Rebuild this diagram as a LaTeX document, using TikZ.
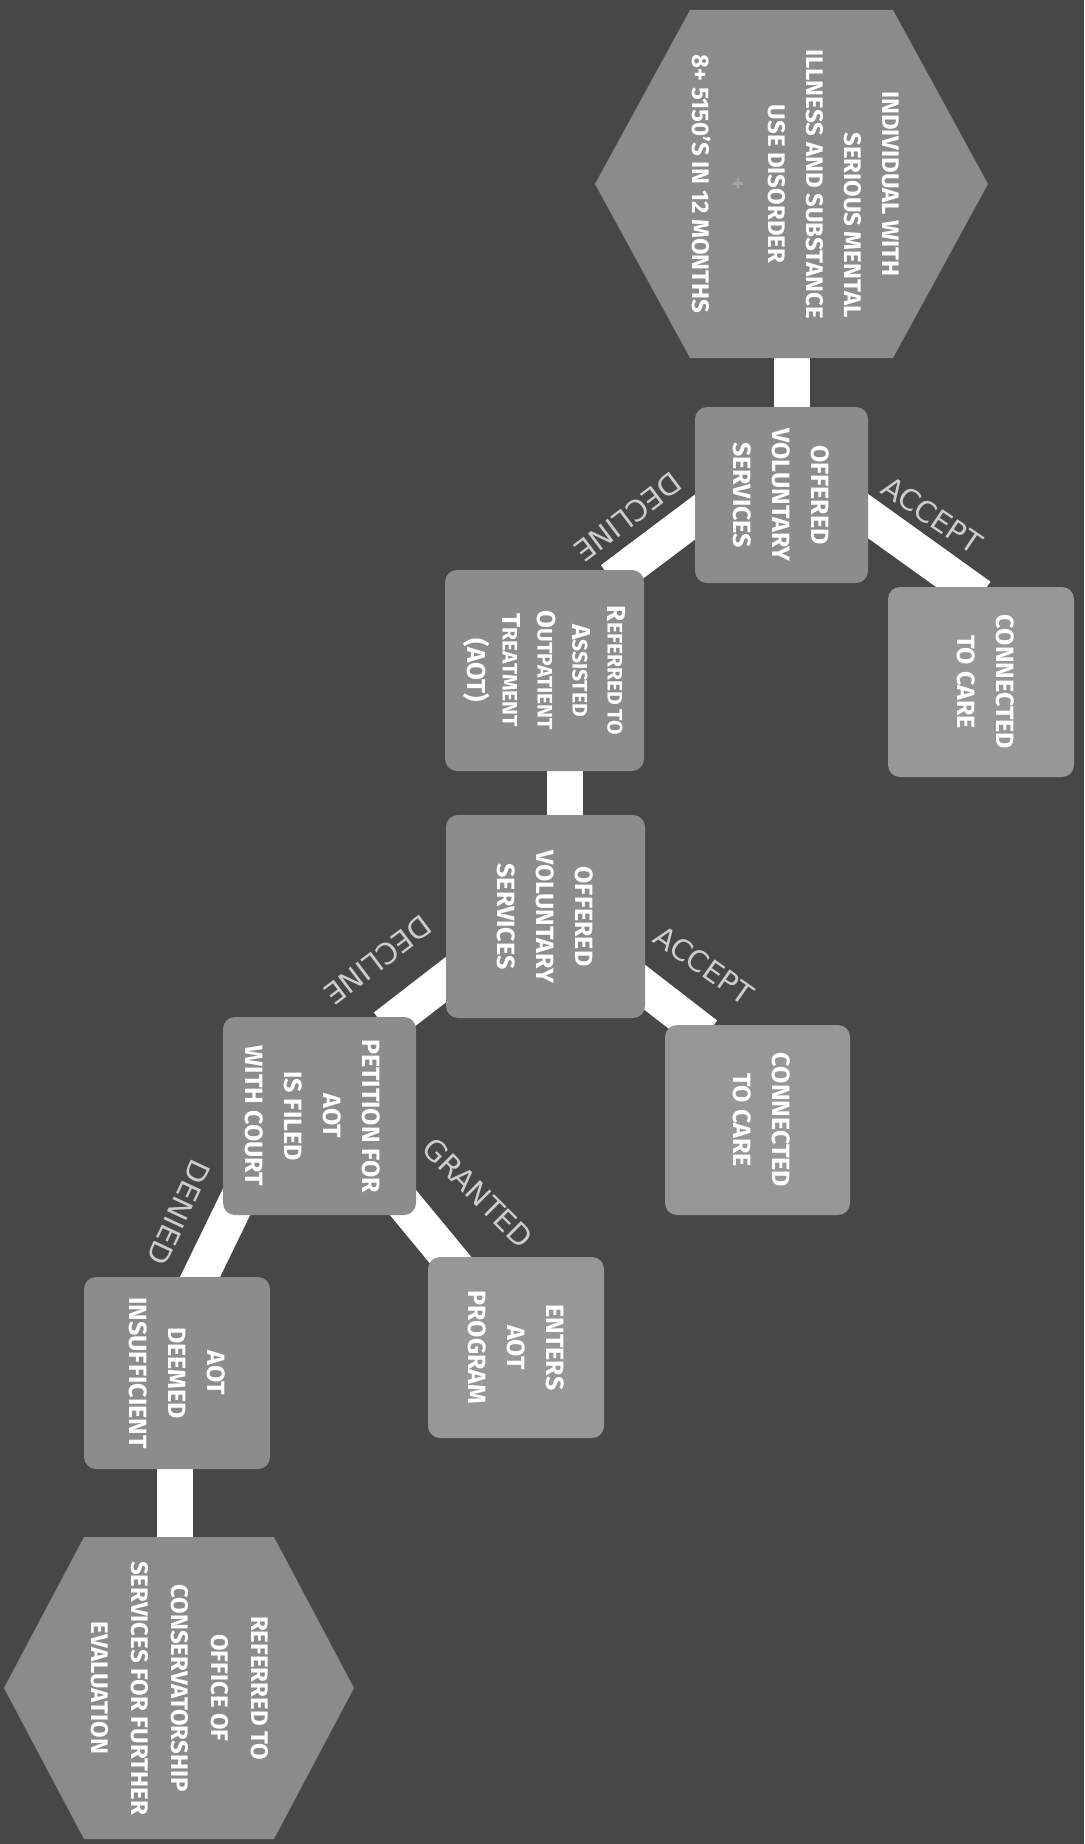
\documentclass[tikz,border=0pt]{standalone}
\usepackage{fontspec}
\setmainfont{Fira Sans}
\newfontfamily\labelfont{DejaVu Sans}
\usetikzlibrary{calc}
\pgfdeclarelayer{bglayer}
\pgfdeclarelayer{edgelayer}
\pgfsetlayers{bglayer,edgelayer,main}
\definecolor{bgcol}{HTML}{474747}
\definecolor{boxcol}{HTML}{8C8C8C}
\definecolor{boxlight}{HTML}{979797}
\definecolor{hexcol}{HTML}{8B8B8B}
\definecolor{labelcol}{HTML}{CDCDCD}
\definecolor{faintcol}{HTML}{A2A2A2}
\newcommand\capsm[2]{{\fontsize{26}{34}\selectfont #1}{\fontsize{21}{34}\selectfont #2}}
\tikzset{
  stepbox/.style={fill=boxcol, rounded corners=12pt, inner sep=0pt, outer sep=0pt},
  lightbox/.style={stepbox, fill=boxlight},
  boxtext/.style={rotate=-90, align=center, text=white, inner sep=0pt,
    font=\bfseries\fontsize{25}{39}\selectfont},
  hextext/.style={rotate=-90, align=center, text=white, inner sep=0pt,
    font=\bfseries\fontsize{24}{38}\selectfont},
  hexframe/.style={inner sep=0pt, outer sep=0pt},
  hexfill/.style={fill=hexcol},
  branch/.style={line width=36pt, white, shorten <=-16pt, shorten >=-16pt},
  edgelabel/.style={text=labelcol, inner sep=0pt, font=\labelfont\fontsize{29}{32}\selectfont}
}
\begin{document}
\begin{tikzpicture}[x=1pt,y=-1pt]
\useasboundingbox (0,0) rectangle (1084,1844);
\begin{pgfonlayer}{bglayer}
  \fill[bgcol] (0,0) rectangle (1084,1844);
\end{pgfonlayer}

% top hexagon
\node[hexframe, minimum width=393pt, minimum height=348pt] (h1) at (791.5,184) {};
\fill[hexfill] (h1.west) -- ($(h1.north west)+(95,0)$) -- ($(h1.north east)+(-95,0)$)
  -- (h1.east) -- ($(h1.south east)+(-95,0)$) -- ($(h1.south west)+(95,0)$) -- cycle;
\node[hextext] (h1t) at (796,184) {INDIVIDUAL WITH\\\hspace*{82pt}SERIOUS MENTAL\\ILLNESS AND SUBSTANCE\\USE DISORDER\\{\color{faintcol}+}\\8+ 5150'S IN 12 MONTHS};

% boxes
\node[stepbox, minimum width=173pt, minimum height=176pt] (b1) at (781.5,495) {};
\node[boxtext] (b1t) at (b1) {OFFERED\\VOLUNTARY\\SERVICES};

\node[lightbox, minimum width=186pt, minimum height=190pt] (c1) at (981,682) {};
\node[boxtext] (c1t) at (986,682) {CONNECTED\\TO CARE};

\node[stepbox, minimum width=199pt, minimum height=201pt] (ref) at (544.5,670.5) {};
\node[boxtext, font=\bfseries\fontsize{26}{35}\selectfont] (reft) at (ref)
  {\capsm{R}{EFERRED TO}\\\capsm{A}{SSISTED}\\\capsm{O}{UTPATIENT}\\\capsm{T}{REATMENT}\\(AOT)};

\node[stepbox, minimum width=199pt, minimum height=203pt] (b2) at (545.5,916.5) {};
\node[boxtext] (b2t) at (b2) {OFFERED\\VOLUNTARY\\SERVICES};

\node[lightbox, minimum width=185pt, minimum height=190pt] (c2) at (757.5,1120) {};
\node[boxtext] (c2t) at (762,1120) {CONNECTED\\TO CARE};

\node[stepbox, minimum width=193pt, minimum height=198pt] (pet) at (319.5,1116) {};
\node[boxtext] (pett) at (313,1116) {PETITION FOR\\AOT\\IS FILED\\WITH COURT};

\node[lightbox, minimum width=176pt, minimum height=181pt] (ent) at (516,1347.5) {};
\node[boxtext] (entt) at (ent) {ENTERS\\AOT\\PROGRAM};

\node[stepbox, minimum width=186pt, minimum height=192pt] (dm) at (177,1373) {};
\node[boxtext] (dmt) at (dm) {AOT\\DEEMED\\INSUFFICIENT};

% bottom hexagon
\node[hexframe, minimum width=350pt, minimum height=302pt] (h2) at (179,1688) {};
\fill[hexfill] (h2.west) -- ($(h2.north west)+(80,0)$) -- ($(h2.north east)+(-80,0)$)
  -- (h2.east) -- ($(h2.south east)+(-80,0)$) -- ($(h2.south west)+(80,0)$) -- cycle;
\node[hextext, font=\bfseries\fontsize{24}{40}\selectfont] (h2t) at (180,1688)
  {REFERRED TO\\OFFICE OF\\CONSERVATORSHIP\\SERVICES FOR FURTHER\\EVALUATION};

% connector end points
\coordinate (dmb) at ($(dm.south)+(-2,0)$);
\coordinate (h2t0) at (dmb |- h2.north);

% connectors
\begin{pgfonlayer}{edgelayer}
  \draw[branch] (h1.south) -- (h1.south |- b1.north);
  \draw[branch] ($(b1.east)+(0,21)$) -- ($(c1.north)+(-14,0)$);
  \draw[branch] ($(b1.west)+(0,22)$) -- ($(ref.north)+(80,0)$);
  \draw[branch] ($(ref.south)+(20,0)$) -- ($(b2.north)+(19,0)$);
  \draw[branch] ($(b2.east)+(0,71)$) -- ($(c2.north)+(-64,0)$);
  \draw[branch] ($(b2.west)+(0,63)$) -- ($(pet.north)+(78,0)$);
  \draw[branch] ($(pet.south east)+(-11,-10)$) -- ($(ent.north west)+(20,0)$);
  \draw[branch] ($(pet.south west)+(12,-10)$) -- ($(dm.north)+(23,0)$);
  \draw[branch] (dmb) -- (h2t0);
\end{pgfonlayer}

% branch labels
\node[edgelabel, rotate=-34] (la1) at (932,515) {ACCEPT};
\node[edgelabel, rotate=217] (ld1) at (628,517) {DECLINE};
\node[edgelabel, rotate=-35] (la2) at (704,965) {ACCEPT};
\node[edgelabel, rotate=217] (ld2) at (378,960) {DECLINE};
\node[edgelabel, rotate=-45] (lg) at (478,1193) {GRANTED};
\node[edgelabel, rotate=245] (ldn) at (179,1213) {DENIED};
\end{tikzpicture}
\end{document}
